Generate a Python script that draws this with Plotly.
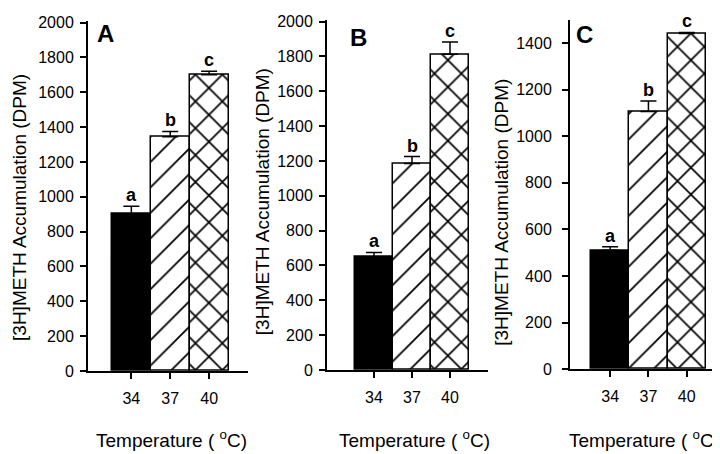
import plotly.graph_objects as go

# ---- data ----
temps = ["34", "37", "40"]
panel_labels = ["A", "B", "C"]
means_A = [900, 1345, 1700]
err_A = [45, 30, 20]
means_B = [650, 1185, 1812]
err_B = [25, 40, 70]
means_C = [510, 1106, 1441]
err_C = [15, 45, 5]
sig_letters = ["a", "b", "c"]
y_title = "[3H]METH Accumulation (DPM)"
x_title = "Temperature ( <sup>o</sup>C)"

W, H = 720, 454
FONT = "Liberation Sans, Arial, sans-serif"

bar_styles = [
    dict(color="black", shape="", size=10, solidity=0.1),
    dict(color="white", shape="/", size=18, solidity=0.1),
    dict(color="white", shape="x", size=19, solidity=0.17),
]

panels = [
    dict(means=means_A, errs=err_A, xdom=(80, 240), ybot=369, ytop=6, yrange=(0, 2010),
         xrange=(-1.115, 3.0), letter_xy=(97, 19), ytitle_xy=(12, 200), xtitle=(163, "center"), standoff=3),
    dict(means=means_B, errs=err_B, xdom=(319, 480), ybot=368, ytop=5, yrange=(0, 2010),
         xrange=(-1.237, 3.0), letter_xy=(350, 23), ytitle_xy=(254, 194), xtitle=(406, "center"), standoff=3),
    dict(means=means_C, errs=err_C, xdom=(562, 720), ybot=367, ytop=5, yrange=(0, 1500),
         xrange=(-1.048, 3.077), letter_xy=(576, 20), ytitle_xy=(494, 205), xtitle=(714, "right"), standoff=7),
]

fig = go.Figure()
annotations = []
layout_axes = {}

for k, p in enumerate(panels):
    xa = "x" if k == 0 else f"x{k+1}"
    ya = "y" if k == 0 else f"y{k+1}"
    xkey = "xaxis" if k == 0 else f"xaxis{k+1}"
    ykey = "yaxis" if k == 0 else f"yaxis{k+1}"
    for i in range(3):
        st = bar_styles[i]
        marker = dict(color=st["color"], line=dict(color="black", width=1.5))
        if st["shape"]:
            marker["pattern"] = dict(shape=st["shape"], fgcolor="black", fgopacity=1,
                                     size=st["size"], solidity=st["solidity"])
        fig.add_trace(go.Bar(
            x=[i], y=[p["means"][i]], width=1.0, marker=marker,
            error_y=dict(type="data", array=[p["errs"][i]], arrayminus=[0], symmetric=False,
                         color="black", thickness=1.5, width=8),
            xaxis=xa, yaxis=ya, showlegend=False, hoverinfo="skip",
        ))
    layout_axes[xkey] = dict(
        domain=[p["xdom"][0] / W, p["xdom"][1] / W], anchor=ya, range=list(p["xrange"]),
        tickvals=[0, 1, 2], ticktext=temps, ticks="outside", ticklen=6, tickwidth=1.5,
        tickcolor="black", showline=True, linecolor="black", linewidth=2,
        showgrid=False, zeroline=False, ticklabelstandoff=6,
        tickfont=dict(family=FONT, size=16, color="black"),
    )
    layout_axes[ykey] = dict(
        domain=[(H - p["ybot"]) / H, (H - p["ytop"]) / H], anchor=xa, range=list(p["yrange"]),
        tickmode="array", tickvals=list(range(0, int(p["yrange"][1]) + 1, 200)),
        ticks="outside", ticklen=6, tickwidth=1.5, tickcolor="black",
        showline=True, linecolor="black", linewidth=2, showgrid=False, zeroline=False,
        ticklabelstandoff=p["standoff"], ticklabeloverflow="allow",
        tickfont=dict(family=FONT, size=16, color="black"),
    )
    for i, (m, e) in enumerate(zip(p["means"], p["errs"])):
        annotations.append(dict(
            x=i, y=m + e, xref=xa, yref=ya, text=f"<b>{sig_letters[i]}</b>",
            showarrow=False, yanchor="bottom", yshift=-1,
            font=dict(family=FONT, size=18, color="black"),
        ))
    lx, ly = p["letter_xy"]
    annotations.append(dict(
        x=lx / W, y=(H - ly) / H, xref="paper", yref="paper", text=f"<b>{panel_labels[k]}</b>",
        showarrow=False, xanchor="center", yanchor="middle",
        font=dict(family=FONT, size=24, color="black"),
    ))
    tx, ty = p["ytitle_xy"]
    annotations.append(dict(
        x=tx / W, y=(H - ty) / H, xref="paper", yref="paper", text=y_title, textangle=-90,
        showarrow=False, xanchor="center", yanchor="middle",
        font=dict(family=FONT, size=19, color="black"),
    ))
    xt, anc = p["xtitle"]
    annotations.append(dict(
        x=xt / W, y=(H - 440) / H, xref="paper", yref="paper", text=x_title,
        showarrow=False, xanchor=anc, yanchor="middle",
        font=dict(family=FONT, size=19, color="black"),
    ))

fig.update_layout(
    width=W, height=H, margin=dict(l=0, r=0, t=0, b=0),
    paper_bgcolor="white", plot_bgcolor="white",
    annotations=annotations, bargap=0, barmode="overlay", **layout_axes,
)

fig.write_html("out.html")
